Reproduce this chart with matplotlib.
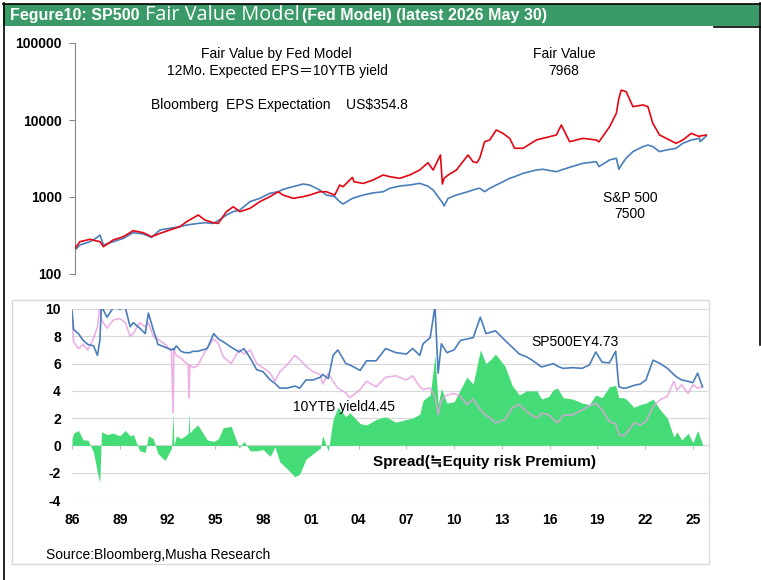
import matplotlib
matplotlib.use('Agg')
import matplotlib.pyplot as plt
from matplotlib.patches import Rectangle
from matplotlib.lines import Line2D

# ---- top panel: S&P 500 and Fed-model fair value (log scale)
top_years = [1986.0, 1986.31, 1986.94, 1987.3, 1987.57, 1987.78, 1988.4, 1989.03, 1989.65, 1990.28,
             1990.8, 1991.33, 1991.95, 1992.58, 1993.0, 1993.73, 1994.15, 1994.67, 1994.98, 1995.5,
             1995.92, 1996.34, 1996.97, 1997.59, 1998.22, 1998.74, 1999.05, 1999.68, 2000.31, 2000.72,
             2001.35, 2001.77, 2002.29, 2002.6, 2002.81, 2003.4, 2003.5, 2004.07, 2004.69, 2005.32,
             2005.74, 2006.37, 2006.99, 2007.62, 2008.14, 2008.46, 2008.92, 2009.04, 2009.15, 2009.4,
             2009.92, 2010.65, 2010.96, 2011.2, 2011.38, 2011.69, 2012.01, 2012.42, 2012.84, 2013.26,
             2013.57, 2014.1, 2014.93, 2015.35, 2016.19, 2016.5, 2017.02, 2017.86, 2018.69, 2018.86,
             2019.53, 2019.95, 2020.11, 2020.26, 2020.57, 2020.99, 2021.62, 2021.93, 2022.24, 2022.66,
             2023.08, 2023.7, 2024.12, 2024.65, 2025.17, 2025.21, 2025.59]
sp500 = [205, 238, 263, 290, 321, 238, 263, 290, 344, 331,
         299, 373, 392, 412, 433, 454, 464, 454, 493, 584,
         645, 678, 869, 961, 1116, 1170, 1257, 1363, 1475, 1430,
         1230, 1060, 1010, 869, 810, 961, 975, 1060, 1130, 1170,
         1297, 1390, 1432, 1506, 1380, 1233, 914, 850, 764, 962,
         1061, 1173, 1233, 1280, 1297, 1173, 1297, 1432, 1580, 1750,
         1836, 2030, 2243, 2290, 2130, 2243, 2430, 2740, 2875, 2480,
         3030, 3180, 2290, 2600, 3200, 3880, 4510, 4730, 4510, 3880,
         4075, 4290, 4980, 5500, 5780, 5230, 6200]
fair_value = [215, 263, 282, 270, 263, 226, 277, 305, 365, 344,
              305, 337, 373, 412, 478, 584, 502, 464, 454, 645,
              748, 645, 711, 869, 1010, 1170, 1060, 961, 1010, 1060,
              1170, 1170, 1060, 1430, 1360, 1800, 1580, 1500, 1660, 1930,
              1836, 1750, 1930, 2243, 2790, 2243, 3510, 1476, 1750, 1930,
              2243, 3510, 2875, 2790, 3180, 5230, 5500, 7420, 6710, 5780,
              4290, 4290, 5500, 5780, 6390, 8610, 5230, 5780, 5500, 5200,
              8190, 12220, 19100, 24500, 23300, 14900, 15700, 14900, 9050, 6390,
              5780, 4980, 5500, 6710, 6080, 6200, 6390]

# ---- bottom panel: earnings yield, 10y yield, spread (%)
bot_years = [1986.0, 1986.1, 1986.4, 1986.7, 1987.0, 1987.35, 1987.6, 1987.75, 1987.85, 1988.2,
             1988.6, 1989.0, 1989.35, 1989.65, 1989.85, 1990.25, 1990.6, 1990.8, 1991.1, 1991.4,
             1991.85, 1992.25, 1992.35, 1992.4, 1992.55, 1992.85, 1993.1, 1993.3, 1993.35, 1993.4,
             1993.6, 1993.9, 1994.5, 1994.9, 1995.2, 1995.5, 1996.0, 1996.5, 1996.8, 1997.2,
             1997.6, 1998.0, 1998.45, 1998.75, 1999.05, 1999.5, 2000.0, 2000.3, 2000.7, 2001.15,
             2001.6, 2001.75, 2002.1, 2002.4, 2002.7, 2003.2, 2003.45, 2004.1, 2004.5, 2005.1,
             2005.7, 2006.35, 2007.0, 2007.4, 2007.85, 2008.05, 2008.5, 2008.8, 2009.0, 2009.2,
             2009.55, 2010.0, 2010.4, 2010.8, 2011.2, 2011.65, 2012.0, 2012.3, 2012.6, 2013.2,
             2013.65, 2014.1, 2014.55, 2014.9, 2015.2, 2015.5, 2015.95, 2016.25, 2016.5, 2016.85,
             2017.45, 2018.05, 2018.5, 2018.9, 2019.3, 2019.75, 2020.15, 2020.35, 2020.6, 2020.8,
             2021.3, 2021.7, 2022.05, 2022.5, 2022.95, 2023.4, 2023.8, 2024.0, 2024.3, 2024.7,
             2025.0, 2025.3, 2025.6]
sp500_ey = [9.9, 8.5, 8.2, 7.7, 7.4, 7.3, 6.6, 7.7, 10.2, 9.4,
            10.1, 10.0, 10.1, 8.7, 9.0, 8.6, 8.2, 9.7, 8.5, 7.4,
            7.2, 7.0, 7.1, 7.0, 7.3, 6.9, 6.8, 6.8, 6.8, 6.8,
            6.9, 6.9, 7.1, 8.2, 7.8, 7.6, 7.2, 6.85, 7.1, 6.4,
            5.55, 5.4, 4.8, 4.55, 4.2, 4.2, 4.35, 4.2, 4.8, 4.8,
            5.0, 5.2, 4.9, 6.6, 7.0, 6.0, 5.9, 5.5, 6.2, 6.2,
            7.1, 6.8, 6.7, 7.1, 6.6, 7.45, 7.9, 10.2, 5.3, 7.45,
            6.8, 7.0, 7.7, 7.8, 7.9, 9.4, 8.2, 8.3, 8.4, 7.7,
            7.2, 6.7, 6.5, 6.25, 6.0, 5.75, 5.9, 6.0, 5.8, 5.65,
            5.7, 5.65, 5.9, 6.85, 6.1, 6.05, 6.9, 4.3, 4.2, 4.2,
            4.4, 4.5, 4.8, 6.25, 6.0, 5.65, 5.2, 5.0, 4.8, 4.7,
            4.6, 5.3, 4.3]
yield_10y = [9.4, 7.6, 7.1, 7.4, 7.0, 7.85, 8.7, 10.2, 9.2, 8.6,
             9.2, 9.3, 9.0, 8.0, 8.2, 9.0, 8.7, 9.0, 8.0, 7.8,
             7.4, 6.9, 2.4, 7.0, 6.6, 6.4, 6.1, 5.9, 3.5, 5.9,
             5.7, 5.85, 7.2, 7.8, 7.45, 6.5, 6.0, 7.0, 6.7, 7.0,
             6.0, 5.7, 5.3, 4.7, 5.4, 5.9, 6.6, 6.3, 5.8, 5.4,
             5.2, 4.5, 5.3, 4.7, 4.2, 3.85, 3.5, 4.1, 4.7, 4.3,
             5.0, 5.1, 4.8, 5.1, 4.3, 4.1, 4.2, 3.6, 2.25, 3.3,
             3.7, 3.8, 3.6, 3.0, 3.4, 2.6, 2.2, 2.0, 1.65, 1.9,
             2.75, 3.0, 2.5, 2.2, 2.0, 2.35, 2.25, 1.9, 1.65, 2.2,
             2.25, 2.6, 2.9, 3.1, 2.6, 1.75, 1.6, 0.8, 0.7, 0.85,
             1.65, 1.5, 1.75, 2.85, 3.35, 3.6, 4.7, 4.05, 4.45, 3.8,
             4.45, 4.2, 4.3]
spread = [0.5, 0.9, 1.1, 0.4, 0.4, -0.5, -2.0, -2.7, 1.0, 0.8,
          0.9, 0.7, 1.1, 0.7, 0.8, -0.4, -0.5, 0.7, 0.5, -0.6,
          -1.1, -0.2, 2.4, 0.0, 0.7, 0.5, 0.7, 0.9, 2.4, 0.9,
          1.2, 1.5, 0.4, 0.3, 0.5, 1.3, 1.4, -0.2, 0.3, -0.4,
          -0.4, -0.3, -0.8, -0.1, -1.2, -1.7, -2.3, -2.1, -1.0, -0.6,
          -0.2, 0.7, -0.4, 1.9, 2.8, 2.1, 2.4, 1.6, 1.5, 1.9,
          2.1, 1.7, 1.9, 2.0, 2.3, 3.3, 3.7, 6.6, 3.0, 4.2,
          3.1, 3.2, 4.1, 5.0, 4.5, 7.0, 6.0, 6.3, 6.7, 5.8,
          4.4, 3.7, 4.0, 4.0, 4.0, 3.4, 3.6, 4.1, 4.2, 3.5,
          3.4, 3.1, 3.0, 3.7, 3.5, 4.3, 4.4, 3.5, 3.5, 3.4,
          2.8, 3.0, 3.1, 3.4, 2.6, 2.0, 0.6, 1.0, 0.4, 0.9,
          0.2, 1.1, 0.1]

x_ticks = list(range(1986, 2026, 3))
x_labels = ['%02d' % (y % 100) for y in x_ticks]
log_ticks = [100, 1000, 10000, 100000]
pct_ticks = list(range(-4, 11, 2))

BLUE = '#4a7ebb'
RED = '#e30613'
PINK = '#e89ee0'
GREEN = '#45dc78'
HEAD = '#3a9a68'
GRID = '#d9d9d9'

FONT = ['Liberation Sans', 'Noto Sans CJK JP', 'DejaVu Sans']
plt.rcParams['font.family'] = FONT

W, H = 761, 580
fig = plt.figure(figsize=(W / 100, H / 100), dpi=100)


def fx(x):
    return x / W


def fy(y):
    return 1 - y / H


def box(x0, y0, x1, y1):
    return [x0 / W, 1 - y1 / H, (x1 - x0) / W, (y1 - y0) / H]


# frame and header
fig.patches.append(Rectangle((fx(3), fy(26)), fx(759) - fx(3), fy(4) - fy(26),
                             transform=fig.transFigure, facecolor=HEAD, edgecolor='none'))
for (x0, y0, x1, y1) in [(3, 3.5, 759.5, 3.5), (3.5, 3, 3.5, 580), (759.5, 3, 759.5, 345),
                         (714, 26.5, 759.5, 26.5)]:
    fig.add_artist(Line2D([fx(x0), fx(x1)], [fy(y0), fy(y1)], transform=fig.transFigure,
                          color='black', lw=1.2))
fig.patches.append(Rectangle((fx(12), fy(564)), fx(709) - fx(12), fy(300) - fy(564),
                             transform=fig.transFigure, facecolor='none', edgecolor=GRID, lw=1))

fig.text(fx(10), fy(15.5), 'Fegure10: SP500', color='white', fontsize=11.5,
         fontweight='bold', va='center', ha='left')
fig.text(fx(145), fy(15), 'Fair Value Model', color='white', fontsize=14.3,
         va='center', ha='left', family=['Open Sans', 'DejaVu Sans'])
fig.text(fx(302), fy(15.5), '(Fed Model) (latest 2026 May 30)', color='white', fontsize=11.5,
         fontweight='bold', va='center', ha='left')

# ---- top panel
ax1 = fig.add_axes(box(75, 43, 712, 274))
ax1.plot(top_years, sp500, color=BLUE, lw=1.2, zorder=2)
ax1.plot(top_years, fair_value, color=RED, lw=1.2, zorder=3)
ax1.set_yscale('log')
ax1.set_ylim(100, 100000)
ax1.set_xlim(1986, 2025.95)
for s in ['top', 'right', 'bottom']:
    ax1.spines[s].set_visible(False)
ax1.spines['left'].set_color('#868686')
ax1.set_yticks(log_ticks)
ax1.set_yticklabels([str(v) for v in log_ticks], fontweight='bold', fontsize=10)
ax1.yaxis.set_minor_locator(matplotlib.ticker.NullLocator())
ax1.tick_params(axis='y', length=4, color='#868686', pad=5.5)
ax1.set_xticks([])
ax1.patch.set_visible(False)

fig.text(fx(276), fy(54), 'Fair Value by Fed Model', fontsize=10, ha='center', va='center')
fig.text(fx(277), fy(71), '12Mo. Expected EPS\uff1d10YTB yield', fontsize=10,
         ha='center', va='center')
fig.text(fx(151), fy(105), 'Bloomberg  EPS Expectation    US$354.8', fontsize=10,
         ha='left', va='center')
fig.text(fx(564), fy(54), 'Fair Value', fontsize=10, ha='center', va='center')
fig.text(fx(564), fy(71), '7968', fontsize=10, ha='center', va='center')
fig.text(fx(630), fy(198), 'S&P 500', fontsize=10, ha='center', va='center')
fig.text(fx(630), fy(214), '7500', fontsize=10, ha='center', va='center')

# ---- bottom panel
ax2 = fig.add_axes(box(72, 309, 708, 500))
ax2.fill_between(bot_years, 0, spread, color=GREEN, lw=0, zorder=1)
ax2.plot(bot_years, yield_10y, color=PINK, lw=1.2, alpha=0.8, zorder=2)
ax2.plot(bot_years, sp500_ey, color=BLUE, lw=1.2, zorder=3)
ax2.set_ylim(-4, 10)
ax2.set_xlim(1986, 2025.95)
for s in ax2.spines.values():
    s.set_visible(False)
ax2.set_yticks(pct_ticks)
ax2.set_yticklabels([str(v) for v in pct_ticks], fontweight='bold', fontsize=10)
ax2.set_xticks(x_ticks)
ax2.set_xticklabels(x_labels, fontweight='bold', fontsize=10)
ax2.tick_params(length=0)
ax2.tick_params(axis='y', pad=8)
ax2.tick_params(axis='x', pad=9)
ax2.grid(axis='y', color=GRID, lw=0.9)
ax2.set_axisbelow(True)

# zero line with small tick marks
zero_axis = ax2.secondary_xaxis(4 / 14)
zero_axis.set_xticks(x_ticks)
zero_axis.set_xticklabels([])
zero_axis.tick_params(length=3, color='#bfbfbf', width=0.8)
zero_axis.spines['bottom'].set_color('#bfbfbf')

fig.text(fx(575), fy(342), 'SP500EY4.73', fontsize=10, ha='center', va='center')
fig.text(fx(344), fy(407), '10YTB yield4.45', fontsize=10, ha='center', va='center')
fig.text(fx(373), fy(462), 'Spread(\u2252Equity risk Premium)', fontsize=11,
         fontweight='bold', ha='left', va='center')
fig.text(fx(46), fy(555), 'Source:Bloomberg,Musha Research', fontsize=10,
         ha='left', va='center')

fig.savefig('out.png', dpi=100)
